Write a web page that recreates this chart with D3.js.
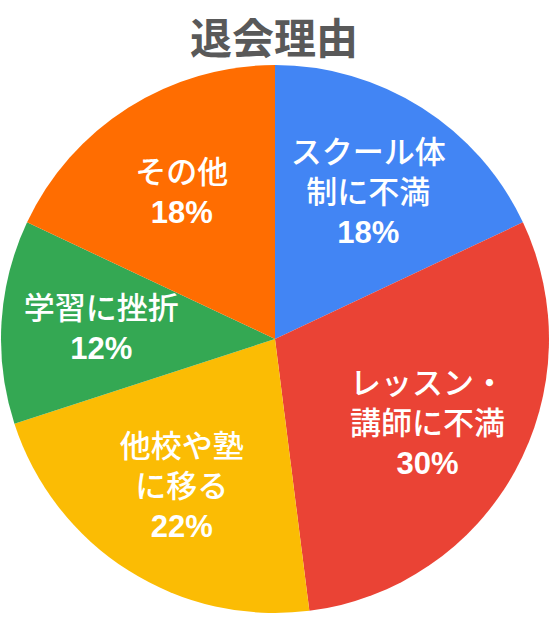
<!DOCTYPE html>
<html>
<head>
<meta charset="utf-8">
<script src="https://cdn.jsdelivr.net/npm/d3@7"></script>
<style>
body { margin:0; background:#ffffff; }
</style>
</head>
<body>
<script>
var canvaswidth=550;
var canvasheight=623;

// data
var title="退会理由";
var reasons=[["スクール体","制に不満"],["レッスン・","講師に不満"],["他校や塾","に移る"],["学習に挫折"],["その他"]];
var percents=[18,30,22,12,18];
var colors=["#4285f4","#ea4335","#fbbc04","#34a853","#ff6d01"];

var cx=275, cy=339, radius=274, labelradius=174, lineheight=40;

var svg=d3.select("body").append("svg")
	.attr("width",canvaswidth)
	.attr("height",canvasheight);

svg.append("text").attr("x",274).attr("y",35).text(title)
	.attr("font-size",42).attr("font-weight","bold").attr("fill","#595959")
	.attr("text-anchor","middle").attr("dominant-baseline","central")
	.attr("font-family","'Noto Sans CJK JP', sans-serif");

var pie=d3.pie().sort(null).value(function(d){return d;});
var arcs=pie(percents);
var arc=d3.arc().innerRadius(0).outerRadius(radius);
var labelarc=d3.arc().innerRadius(labelradius).outerRadius(labelradius);

var g=svg.append("g").attr("transform","translate("+cx+" "+cy+")");

g.selectAll("path.slice").data(arcs).enter().append("path")
	.attr("class","slice")
	.attr("d",arc)
	.attr("fill",function(d,i){return colors[i];});

arcs.forEach(function(d,i) {
	var lines=reasons[i].concat([percents[i]+"%"]);
	var c=labelarc.centroid(d);
	var t=g.append("text").attr("x",c[0]).attr("y",c[1])
		.attr("text-anchor","middle").attr("fill","#ffffff")
		.attr("font-size",31)
		.attr("font-family","'Liberation Sans', 'Noto Sans CJK JP', sans-serif");
	lines.forEach(function(line,j) {
		var off=(j-(lines.length-1)/2)*lineheight;
		t.append("tspan").attr("x",c[0]).attr("y",c[1]+off).attr("dy","0.36em")
			.attr("font-weight",j==lines.length-1 ? "bold" : 500) //percent line is bold, text lines medium
			.text(line);
	});
});
</script>
</body>
</html>
